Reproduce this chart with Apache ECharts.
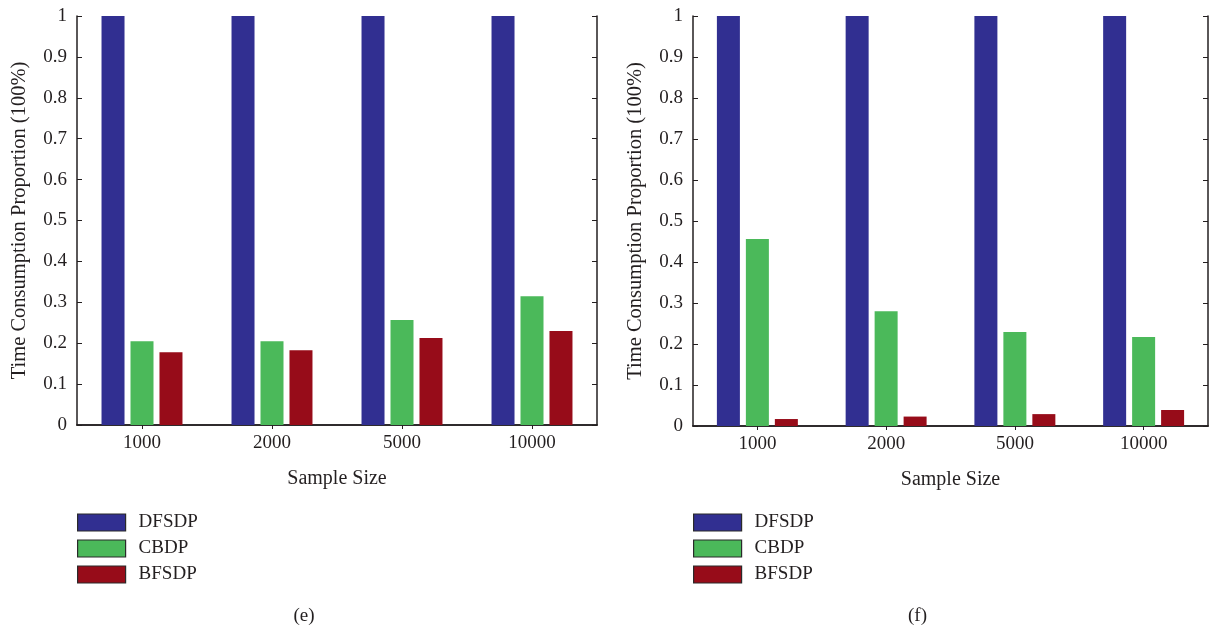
<!DOCTYPE html>
<html><head><meta charset="utf-8">
<script src="https://cdn.jsdelivr.net/npm/echarts@6/dist/echarts.min.js"></script>
<style>html,body{margin:0;padding:0;background:#fff}#c{width:1212px;height:628px}</style>
</head><body><div id="c"></div>
<script>
const categories = ['1000', '2000', '5000', '10000'];
const seriesNames = ['DFSDP', 'CBDP', 'BFSDP'];
// panel (e)
const e_DFSDP = [1, 1, 1, 1];
const e_CBDP = [0.205, 0.205, 0.257, 0.315];
const e_BFSDP = [0.178, 0.183, 0.213, 0.230];
// panel (f)
const f_DFSDP = [1, 1, 1, 1];
const f_CBDP = [0.456, 0.280, 0.229, 0.217];
const f_BFSDP = [0.017, 0.023, 0.029, 0.039];
const yTicks = [0, 0.1, 0.2, 0.3, 0.4, 0.5, 0.6, 0.7, 0.8, 0.9, 1];
const panelLabels = ['(e)', '(f)'];

const colors = ['#312f91', '#4bb95a', '#970c19'];
const ink = '#231f20';
const font = '"Liberation Serif", "DejaVu Serif", serif';
const fs = 19;

const grids = [
  {left: 77, top: 16, width: 520, height: 409},
  {left: 693, top: 16, width: 515, height: 410}
];
const panelData = [[e_DFSDP, e_CBDP, e_BFSDP], [f_DFSDP, f_CBDP, f_BFSDP]];

const xAxis = [], yAxis = [], series = [], legend = [], graphic = [];
grids.forEach((g, i) => {
  xAxis.push({
    type: 'category', gridIndex: i, data: categories, position: 'bottom',
    name: 'Sample Size', nameLocation: 'middle', nameGap: 44,
    nameTextStyle: {fontFamily: font, fontSize: 20, color: ink},
    axisLine: {lineStyle: {color: ink, width: 1.5}},
    axisTick: {show: false},
    axisLabel: {fontFamily: font, fontSize: fs, color: ink, margin: 9}
  });
  xAxis.push({
    type: 'category', gridIndex: i, data: categories, position: 'top',
    axisLine: {lineStyle: {color: ink, width: 1.5}},
    axisTick: {show: true, inside: true, length: 4, alignWithLabel: true, lineStyle: {color: ink}},
    axisLabel: {show: false}
  });
  yAxis.push({
    type: 'value', gridIndex: i, min: 0, max: 1, interval: 0.1, position: 'left',
    name: 'Time Consumption Proportion (100%)', nameLocation: 'middle', nameGap: 47,
    nameTextStyle: {fontFamily: font, fontSize: 20.5, color: ink},
    axisLine: {show: true, lineStyle: {color: ink, width: 1.5}},
    axisTick: {show: true, inside: true, length: 5, lineStyle: {color: ink}},
    axisLabel: {fontFamily: font, fontSize: fs, color: ink, margin: 10,
      formatter: v => String(yTicks.find(t => Math.abs(t - v) < 1e-9) ?? v)},
    splitLine: {show: false}
  });
  yAxis.push({
    type: 'value', gridIndex: i, min: 0, max: 1, interval: 0.1, position: 'right',
    axisLine: {show: true, lineStyle: {color: ink, width: 1.5}},
    axisTick: {show: true, inside: true, length: 5, lineStyle: {color: ink}},
    axisLabel: {show: false},
    splitLine: {show: false}
  });
  seriesNames.forEach((n, k) => {
    series.push({
      type: 'bar', name: n, xAxisIndex: i * 2, yAxisIndex: i * 2,
      data: panelData[i][k], barWidth: 23, barGap: '26%',
      itemStyle: {color: colors[k]}
    });
  });
  legend.push({
    data: seriesNames, orient: 'vertical', left: g.left, top: 513, padding: 0,
    itemWidth: 48, itemHeight: 17, itemGap: 7, icon: 'rect',
    itemStyle: {borderColor: '#2a2a2a', borderWidth: 1.2},
    textStyle: {fontFamily: font, fontSize: fs, color: ink, padding: [0, 0, 0, 8], lineHeight: 17, height: 17},
    selectedMode: false
  });
  graphic.push({
    type: 'text', x: g.left + g.width / 2 - 33, y: 616,
    style: {text: panelLabels[i], font: fs + 'px ' + font, fill: ink, align: 'center', verticalAlign: 'middle'}
  });
});

const chart = echarts.init(document.getElementById('c'));
chart.setOption({
  animation: false,
  color: colors,
  grid: grids,
  xAxis, yAxis, series, legend, graphic
});
</script></body></html>
